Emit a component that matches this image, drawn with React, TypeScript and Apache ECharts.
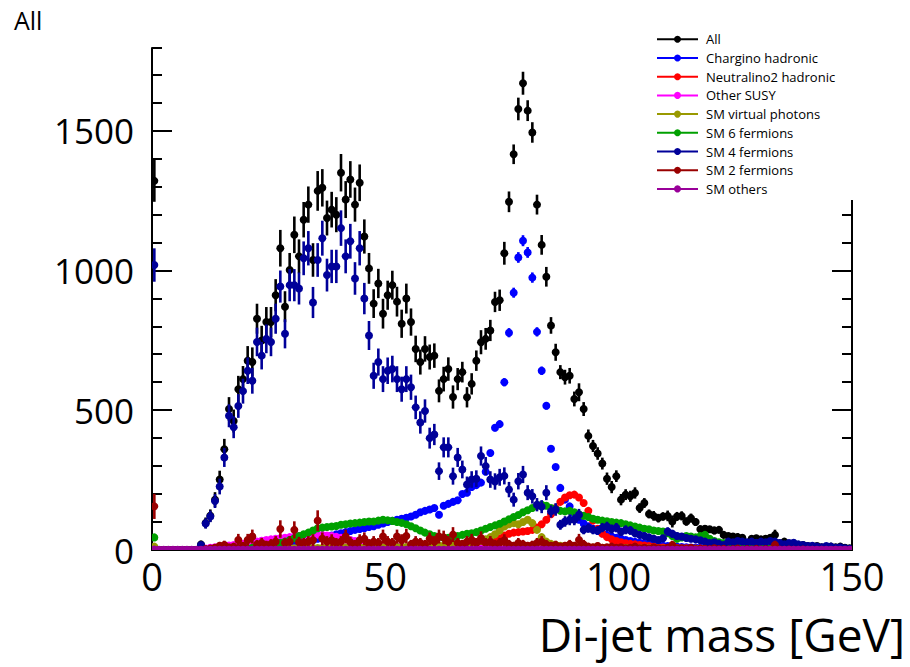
import React, { useEffect, useRef } from "react";
import * as echarts from "echarts";

// ---------- axis / binning ----------
const X_MIN = 0;
const X_MAX = 150;
const X_INTERVAL = 50;
const BIN_WIDTH = 1;
const Y_MIN = 0;
const Y_MAX = 1795;
const Y_MAJOR = 500;
const Y_MINOR = 100;

const TITLE = "All";
const X_TITLE = "Di-jet mass [GeV]";

// ---------- histogram contents (one value per 1 GeV bin, 0..150) ----------
const ALL = [
  1320, 0, 0, 0, 0, 0, 0, 0, 0, 0,
  20, 97, 123, 180, 252, 360, 504, 461, 575, 611,
  677, 672, 827, 749, 815, 815, 911, 1079, 870, 1001,
  1127, 1050, 1181, 1235, 1037, 1284, 1295, 1187, 1217, 1199,
  1349, 1253, 1325, 1235, 1313, 1121, 1007, 881, 953, 845,
  911, 947, 888, 809, 899, 815, 719, 672, 719, 690,
  695, 569, 611, 647, 547, 611, 636, 546, 594, 677,
  743, 755, 785, 887, 893, 1061, 1245, 1415, 1577, 1669,
  1571, 1493, 1235, 1091, 977, 803, 707, 636, 618, 623,
  540, 564, 504, 408, 372, 345, 309, 255, 225, 264,
  180, 198, 192, 204, 150, 168, 129, 122, 114, 120,
  122, 102, 120, 122, 102, 114, 100, 74, 76, 74,
  70, 72, 54, 50, 48, 46, 44, 26, 40, 42,
  38, 40, 44, 54, 24, 30, 20, 18, 16, 18,
  14, 12, 14, 10, 10, 12, 10, 12, 8, 6,
];

const CHARGINO_HADRONIC = [
  0, 0, 0, 0, 0, 0, 0, 0, 0, 0,
  0, 0, 0, 0, 0, 0, 0, 0, 0, 0,
  1, 2, 3, 5, 7, 9, 11, 13, 16, 19,
  22, 25, 28, 32, 35, 40, 44, 48, 52, 56,
  60, 64, 68, 72, 75, 78, 82, 85, 90, 95,
  100, 104, 108, 112, 115, 120, 126, 135, 140, 145,
  150, 126, 158, 165, 172, 178, 200, 205, 225, 232,
  241, 280, 347, 437, 450, 600, 777, 920, 1046, 1106,
  1064, 974, 780, 641, 516, 362, 297, 222, 180, 156,
  130, 108, 95, 85, 76, 68, 60, 54, 48, 44,
  40, 36, 32, 29, 26, 23, 21, 19, 17, 15,
  14, 13, 12, 11, 10, 9, 9, 8, 8, 7,
  7, 6, 6, 6, 5, 5, 5, 4, 4, 4,
  4, 3, 3, 3, 3, 3, 2, 2, 2, 2,
  2, 2, 1, 1, 1, 1, 1, 1, 1, 0,
];

const NEUTRALINO2_HADRONIC = [
  0, 0, 0, 0, 0, 0, 0, 0, 0, 0,
  0, 0, 0, 0, 0, 0, 0, 0, 0, 0,
  0, 0, 0, 0, 0, 0, 0, 0, 0, 0,
  0, 0, 0, 0, 0, 0, 0, 0, 0, 0,
  0, 0, 0, 0, 0, 0, 0, 0, 0, 0,
  1, 1, 1, 2, 2, 2, 3, 3, 3, 4,
  4, 5, 5, 6, 6, 7, 8, 9, 10, 12,
  14, 18, 24, 32, 42, 52, 58, 62, 64, 66,
  68, 72, 80, 92, 108, 128, 150, 172, 188, 196,
  198, 188, 168, 140, 105, 76, 58, 46, 38, 32,
  28, 24, 22, 20, 18, 16, 14, 12, 10, 9,
  8, 7, 7, 6, 6, 6, 5, 5, 5, 4,
  4, 4, 4, 3, 3, 3, 3, 3, 2, 2,
  2, 2, 2, 2, 1, 1, 1, 1, 1, 1,
  1, 1, 1, 0, 0, 0, 0, 0, 0, 0,
];

const OTHER_SUSY = [
  0, 0, 0, 0, 0, 0, 0, 0, 0, 0,
  0, 5, 8, 10, 12, 14, 16, 18, 20, 22,
  25, 28, 30, 33, 36, 38, 40, 42, 44, 46,
  48, 50, 52, 54, 55, 55, 54, 52, 50, 47,
  44, 40, 36, 32, 29, 26, 24, 22, 20, 18,
  16, 14, 12, 11, 10, 9, 8, 8, 7, 7,
  6, 6, 6, 5, 5, 5, 5, 5, 4, 4,
  4, 4, 3, 3, 3, 3, 3, 3, 3, 3,
  3, 3, 3, 2, 2, 2, 2, 2, 2, 2,
  2, 2, 2, 2, 2, 2, 2, 1, 1, 1,
  1, 1, 1, 1, 1, 1, 1, 1, 1, 1,
  1, 1, 1, 1, 1, 1, 1, 1, 1, 1,
  1, 1, 1, 1, 1, 1, 1, 1, 1, 1,
  0, 0, 0, 0, 0, 0, 0, 0, 0, 0,
  0, 0, 0, 0, 0, 0, 0, 0, 0, 0,
];

const SM_VIRTUAL_PHOTONS = [
  12, 0, 0, 0, 0, 0, 0, 0, 0, 0,
  0, 1, 1, 1, 2, 2, 2, 2, 3, 3,
  3, 4, 4, 4, 5, 5, 5, 5, 6, 6,
  6, 6, 6, 7, 7, 7, 7, 7, 8, 8,
  8, 8, 8, 8, 9, 9, 9, 9, 10, 10,
  10, 10, 11, 11, 11, 12, 12, 12, 13, 13,
  14, 15, 16, 18, 20, 21, 22, 24, 26, 28,
  32, 38, 46, 56, 70, 84, 92, 96, 92, 100,
  108, 96, 72, 46, 30, 22, 18, 15, 13, 12,
  11, 10, 10, 9, 9, 9, 8, 8, 8, 7,
  7, 7, 7, 6, 6, 6, 6, 5, 5, 5,
  5, 5, 4, 4, 4, 4, 4, 4, 3, 3,
  3, 3, 3, 3, 3, 2, 2, 2, 2, 2,
  2, 2, 2, 2, 1, 1, 1, 1, 1, 1,
  1, 1, 1, 1, 1, 1, 1, 1, 1, 1,
];

const SM_6_FERMIONS = [
  45, 0, 0, 0, 0, 0, 0, 0, 0, 0,
  0, 0, 2, 2, 3, 3, 4, 4, 5, 5,
  6, 8, 10, 12, 15, 18, 22, 26, 30, 36,
  42, 50, 56, 62, 70, 78, 80, 82, 84, 86,
  90, 92, 95, 96, 98, 100, 102, 102, 105, 108,
  106, 104, 100, 97, 92, 85, 78, 70, 62, 56,
  50, 46, 44, 44, 46, 50, 54, 58, 60, 64,
  70, 76, 82, 88, 94, 102, 110, 118, 125, 135,
  142, 150, 158, 162, 158, 150, 146, 140, 138, 140,
  135, 128, 122, 118, 112, 108, 105, 103, 100, 98,
  96, 92, 88, 84, 80, 76, 74, 70, 68, 66,
  60, 50, 40, 45, 50, 48, 45, 50, 54, 40,
  32, 28, 25, 22, 20, 18, 15, 12, 12, 10,
  10, 9, 8, 8, 7, 7, 6, 6, 6, 5,
  5, 5, 4, 4, 4, 3, 3, 3, 2, 2,
];

const SM_4_FERMIONS = [
  1019, 0, 0, 0, 0, 0, 0, 0, 0, 0,
  18, 95, 120, 175, 227, 331, 480, 439, 515, 568,
  641, 605, 744, 695, 755, 744, 827, 942, 773, 947,
  947, 935, 1043, 1079, 885, 1037, 1115, 983, 1014, 1014,
  1151, 1050, 1104, 971, 1079, 899, 767, 623, 672, 611,
  641, 647, 611, 575, 611, 582, 510, 456, 497, 400,
  413, 282, 367, 367, 264, 331, 288, 234, 252, 255,
  336, 300, 252, 245, 260, 265, 216, 180, 246, 270,
  205, 192, 162, 155, 205, 138, 145, 90, 102, 108,
  108, 126, 72, 78, 72, 70, 80, 84, 75, 80,
  65, 72, 70, 60, 54, 50, 45, 40, 36, 42,
  66, 58, 50, 48, 43, 40, 38, 35, 30, 25,
  28, 22, 18, 30, 28, 32, 30, 28, 30, 26,
  30, 28, 32, 30, 25, 20, 25, 26, 20, 18,
  14, 15, 12, 10, 14, 12, 8, 10, 6, 4,
];

const SM_2_FERMIONS = [
  156, 0, 0, 0, 0, 0, 0, 0, 0, 0,
  0, 3, 5, 8, 15, 18, 10, 12, 36, 15,
  36, 48, 20, 25, 18, 22, 30, 75, 25, 30,
  72, 28, 25, 30, 35, 105, 40, 30, 35, 25,
  30, 48, 28, 20, 35, 40, 22, 30, 25, 48,
  30, 25, 48, 35, 50, 20, 30, 25, 20, 40,
  30, 48, 45, 30, 55, 25, 20, 30, 36, 25,
  43, 25, 30, 20, 25, 35, 20, 15, 25, 20,
  15, 18, 25, 30, 20, 15, 18, 12, 15, 20,
  15, 36, 20, 12, 10, 14, 8, 10, 12, 8,
  10, 6, 8, 12, 6, 8, 5, 10, 6, 4,
  8, 18, 5, 6, 4, 8, 3, 5, 4, 3,
  6, 3, 4, 2, 3, 5, 2, 3, 2, 4,
  2, 3, 2, 18, 2, 1, 2, 1, 1, 2,
  1, 1, 0, 1, 0, 0, 1, 0, 0, 0,
];

const SM_OTHERS = [
  2, 1, 1, 1, 1, 1, 1, 1, 1, 1,
  1, 1, 1, 1, 1, 1, 1, 1, 1, 1,
  1, 1, 1, 1, 1, 1, 1, 1, 1, 1,
  1, 1, 1, 1, 1, 1, 1, 1, 1, 1,
  1, 1, 1, 1, 1, 1, 1, 1, 1, 1,
  1, 1, 1, 1, 1, 1, 1, 1, 1, 1,
  1, 1, 1, 1, 1, 1, 1, 1, 1, 1,
  1, 1, 1, 1, 1, 1, 1, 1, 1, 1,
  1, 1, 1, 1, 1, 1, 1, 1, 1, 1,
  1, 1, 1, 1, 1, 1, 1, 1, 1, 1,
  1, 1, 1, 1, 1, 1, 1, 1, 1, 1,
  1, 1, 1, 1, 1, 1, 1, 1, 1, 1,
  1, 1, 1, 1, 1, 1, 1, 1, 1, 1,
  1, 1, 1, 1, 1, 1, 1, 1, 1, 1,
  1, 1, 1, 1, 1, 1, 1, 1, 1, 1,
];

// per-sample event weights (bin error = sqrt(sum w*N))
const W_CHARGINO = 0.35;
const W_NEUTRALINO = 0.2;
const W_SUSY = 0.2;
const W_PHOTONS = 0.4;
const W_6F = 0.3;
const W_4F = 3.5;
const W_2F = 13;
const W_OTHERS = 0.3;

const FONT = "'Open Sans', 'DejaVu Sans', sans-serif";

type Comp = { name: string; color: string; values: number[]; w: number };

const COMPONENTS: Comp[] = [
  { name: "Chargino hadronic", color: "#0000ff", values: CHARGINO_HADRONIC, w: W_CHARGINO },
  { name: "Neutralino2 hadronic", color: "#ff0000", values: NEUTRALINO2_HADRONIC, w: W_NEUTRALINO },
  { name: "Other SUSY", color: "#ff00ff", values: OTHER_SUSY, w: W_SUSY },
  { name: "SM virtual photons", color: "#999900", values: SM_VIRTUAL_PHOTONS, w: W_PHOTONS },
  { name: "SM 6 fermions", color: "#00a000", values: SM_6_FERMIONS, w: W_6F },
  { name: "SM 4 fermions", color: "#000099", values: SM_4_FERMIONS, w: W_4F },
  { name: "SM 2 fermions", color: "#990000", values: SM_2_FERMIONS, w: W_2F },
  { name: "SM others", color: "#990099", values: SM_OTHERS, w: W_OTHERS },
];

const ALL_COLOR = "#000000";

function binCenter(i: number) {
  return X_MIN + (i + 0.5) * BIN_WIDTH;
}

function allErrors(): number[] {
  return ALL.map((_, i) => {
    let v = 0;
    COMPONENTS.forEach((c) => (v += c.w * c.values[i]));
    return Math.sqrt(v);
  });
}

function makeRenderItem(color: string) {
  return (params: any, api: any) => {
    const x = api.value(0);
    const y = api.value(1);
    const e = api.value(2);
    const c = api.coord([x, y]);
    const children: any[] = [];
    if (e > 0) {
      const t = api.coord([x, y + e]);
      const b = api.coord([x, Math.max(y - e, Y_MIN)]);
      children.push({
        type: "line",
        shape: { x1: c[0], y1: t[1], x2: c[0], y2: b[1] },
        style: { stroke: color, lineWidth: 2.6 },
      });
    }
    children.push({
      type: "circle",
      shape: { cx: c[0], cy: c[1], r: 4 },
      style: { fill: color },
    });
    return { type: "group", children };
  };
}

function histSeries(name: string, color: string, values: number[], errs: number[]) {
  return {
    type: "custom",
    name,
    clip: true,
    xAxisIndex: 0,
    yAxisIndex: 0,
    renderItem: makeRenderItem(color),
    encode: { x: 0, y: 1 },
    data: values.map((v, i) => [binCenter(i), v, errs[i]]),
    silent: true,
  };
}

function buildOption() {
  const series: any[] = [histSeries("All", ALL_COLOR, ALL, allErrors())];
  COMPONENTS.forEach((c) => {
    series.push(
      histSeries(
        c.name,
        c.color,
        c.values,
        c.values.map((v) => Math.sqrt(c.w * v))
      )
    );
  });

  const legendItems = [{ name: "All", color: ALL_COLOR }, ...COMPONENTS];
  const LEG_TOP = 39.3;
  const LEG_GAP = 18.7;
  const graphic: any[] = [
    {
      type: "rect",
      z: 100,
      shape: { x: 647, y: 26, width: 230, height: 174 },
      style: { fill: "#ffffff" },
    },
    {
      type: "text",
      z: 100,
      x: 905,
      y: 634,
      style: {
        text: X_TITLE,
        fontSize: 46,
        lineHeight: 40,
        fontFamily: FONT,
        fill: "#000",
        align: "right",
        verticalAlign: "middle",
      },
    },
  ];
  legendItems.forEach((it, k) => {
    const y = LEG_TOP + k * LEG_GAP;
    graphic.push({
      type: "line",
      z: 101,
      shape: { x1: 657, y1: y, x2: 698, y2: y },
      style: { stroke: it.color, lineWidth: 2 },
    });
    graphic.push({
      type: "circle",
      z: 102,
      shape: { cx: 677.5, cy: y, r: 3.5 },
      style: { fill: it.color },
    });
    graphic.push({
      type: "text",
      z: 102,
      x: 706,
      y: y,
      style: {
        text: it.name,
        fontSize: 13,
        fontFamily: FONT,
        fill: "#000",
        align: "left",
        verticalAlign: "middle",
      },
    });
  });

  const axisLine = { show: true, lineStyle: { color: "#000", width: 2 } };
  const baseY = { type: "value", min: Y_MIN, max: Y_MAX, splitLine: { show: false } };
  const plain = (v: number) => String(v);

  return {
    animation: false,
    backgroundColor: "#ffffff",
    title: {
      text: TITLE,
      left: 9,
      top: 2,
      textStyle: { fontSize: 25, fontWeight: "normal", fontFamily: FONT, color: "#000" },
    },
    grid: {
      left: 152,
      top: 48,
      width: 700,
      height: 502,
      containLabel: false,
      outerBoundsMode: "none",
    },
    xAxis: [
      {
        type: "value",
        min: X_MIN,
        max: X_MAX,
        interval: X_INTERVAL,
        position: "bottom",
        axisLine,
        axisTick: { show: false },
        splitLine: { show: false },
        axisLabel: {
          fontSize: 38,
          lineHeight: 34,
          fontFamily: FONT,
          color: "#000",
          margin: 9,
          formatter: plain,
        },
      },
      {
        type: "value",
        min: X_MIN,
        max: X_MAX,
        position: "top",
        axisLine,
        axisTick: { show: false },
        axisLabel: { show: false },
        splitLine: { show: false },
      },
    ],
    yAxis: [
      {
        ...baseY,
        position: "left",
        interval: Y_MAJOR,
        axisLine,
        axisTick: { show: true, inside: true, length: 20, lineStyle: { color: "#000", width: 2 } },
        axisLabel: {
          fontSize: 35,
          fontFamily: FONT,
          color: "#000",
          margin: 18,
          showMaxLabel: false,
          formatter: plain,
        },
      },
      {
        ...baseY,
        position: "left",
        interval: Y_MINOR,
        axisLine: { show: false },
        axisTick: { show: true, inside: true, length: 10, lineStyle: { color: "#000", width: 2 } },
        axisLabel: { show: false },
      },
      {
        ...baseY,
        position: "right",
        interval: Y_MAJOR,
        axisLine,
        axisTick: { show: true, inside: true, length: 20, lineStyle: { color: "#000", width: 2 } },
        axisLabel: { show: false },
      },
      {
        ...baseY,
        position: "right",
        interval: Y_MINOR,
        axisLine: { show: false },
        axisTick: { show: true, inside: true, length: 10, lineStyle: { color: "#000", width: 2 } },
        axisLabel: { show: false },
      },
    ],
    graphic,
    series,
  };
}

export default function App() {
  const ref = useRef<HTMLDivElement | null>(null);
  useEffect(() => {
    if (!ref.current) return;
    const chart = echarts.init(ref.current, null, { renderer: "svg" });
    chart.setOption(buildOption() as any);
    return () => chart.dispose();
  }, []);
  return (
    <div
      ref={ref}
      style={{ position: "fixed", left: 0, top: 0, width: 910, height: 667, background: "#fff" }}
    />
  );
}
